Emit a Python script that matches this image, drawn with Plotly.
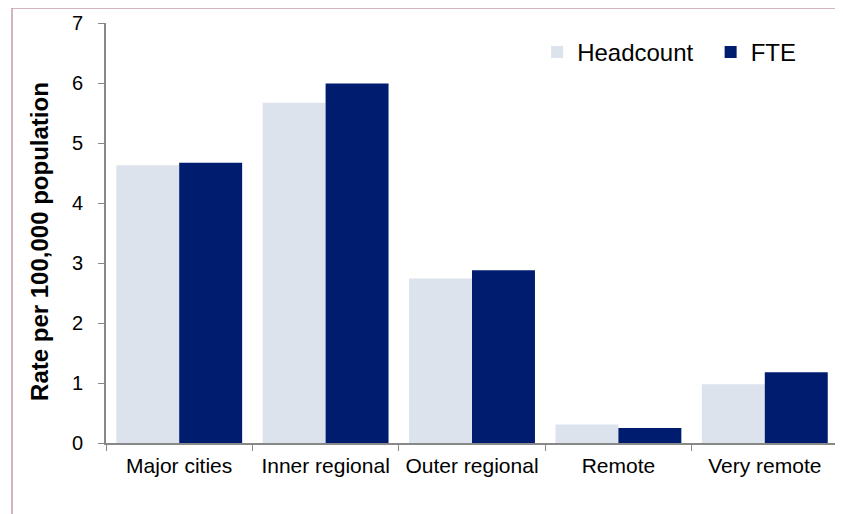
import plotly.graph_objects as go

categories = ["Major cities", "Inner regional", "Outer regional", "Remote", "Very remote"]
headcount = [4.63, 5.67, 2.74, 0.31, 0.98]
fte = [4.67, 5.99, 2.88, 0.25, 1.18]

fig = go.Figure()
fig.add_trace(go.Bar(x=categories, y=headcount, name="Headcount", legend="legend",
                     marker=dict(color="#DCE3EC", line=dict(width=0))))
fig.add_trace(go.Bar(x=categories, y=fte, name="FTE", legend="legend2",
                     marker=dict(color="#001C6E", line=dict(width=0))))

legend_style = dict(orientation="h", y=0.93, xanchor="left", yanchor="middle",
                    font=dict(size=24), bgcolor="rgba(0,0,0,0)", itemwidth=30)

# page has an 8px body margin, so the figure is sized to fit the window
fig.update_layout(
    width=835, height=506,
    margin=dict(l=98, r=5, t=15, b=71, autoexpand=False),
    paper_bgcolor="white", plot_bgcolor="white",
    font=dict(family="Liberation Sans, Arial", color="black"),
    barmode="group", bargap=0.14, bargroupgap=0,
    showlegend=True,
    legend=dict(x=0.589, **legend_style),
    legend2=dict(x=0.826, **legend_style),
    shapes=[dict(type="rect", xref="paper", yref="paper",
                 x0=-0.1284, x1=1.02, y0=-0.2, y1=1.0357,
                 line=dict(color="#C89AAC", width=1.5), layer="below")],
    annotations=[dict(text="<b>Rate per 100,000 population</b>", textangle=-90,
                      xref="paper", yref="paper", x=-0.09, y=0.479,
                      xanchor="center", yanchor="middle", showarrow=False,
                      font=dict(size=24))],
)
fig.update_yaxes(range=[0, 7], dtick=1, showgrid=False, zeroline=False,
                 showline=True, linecolor="#888888", linewidth=1.5,
                 ticks="outside", ticklen=6, tickcolor="#888888",
                 tickfont=dict(size=20), ticksuffix="\u00a0\u00a0")
fig.update_xaxes(showgrid=False, showline=True, linecolor="#888888", linewidth=1.5,
                 ticks="outside", ticklen=6, tickcolor="#888888", tickson="boundaries",
                 tickfont=dict(size=21), ticklabelstandoff=3, tickangle=0)

fig.write_html("out.html")
